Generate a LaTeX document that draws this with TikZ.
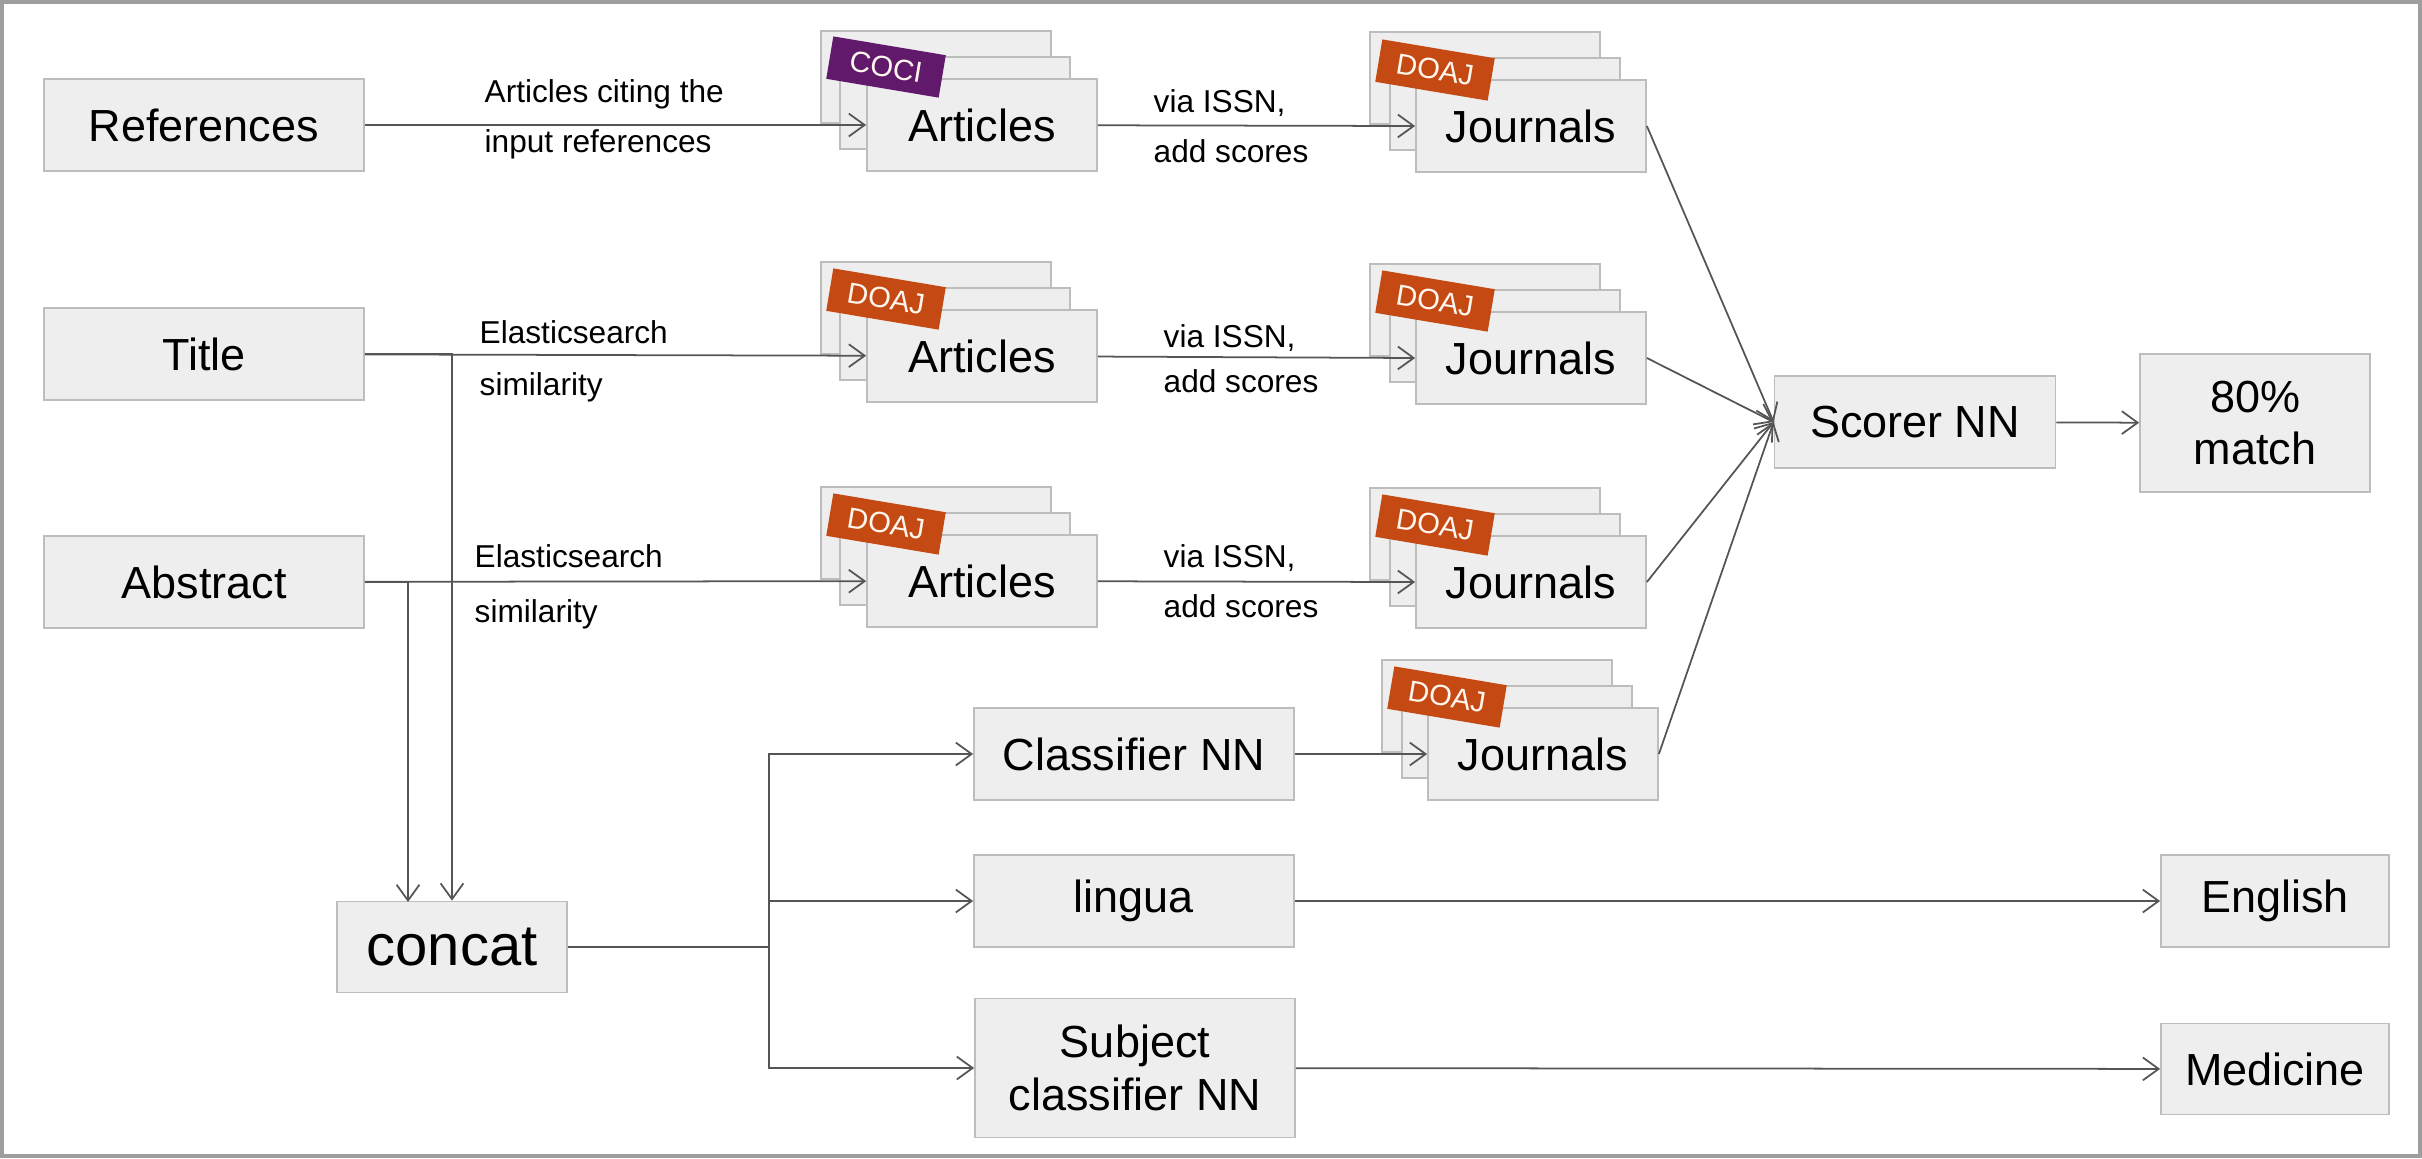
\documentclass[tikz,border=0pt]{standalone}
\usepackage{fontspec}
\setmainfont{Liberation Sans}
\usetikzlibrary{arrows.meta}
\definecolor{boxfill}{HTML}{EEEEEE}
\definecolor{boxline}{HTML}{BDBDBD}
\definecolor{wire}{HTML}{555555}
\definecolor{framegray}{HTML}{9E9E9E}
\definecolor{coci}{RGB}{97,26,107}
\definecolor{doaj}{RGB}{196,73,18}
\definecolor{tagtext}{HTML}{FFF6EE}
\tikzset{
  box/.style={draw=boxline, fill=boxfill, line width=0.5pt, inner sep=0pt, align=center, font=\fontsize{12.8}{15}\selectfont},
  stack/.style={box, minimum width=2.3cm, minimum height=0.92cm},
  wide/.style={box, minimum width=3.2cm, minimum height=0.92cm},
  tag/.style={fill=#1, text=tagtext, rotate=-9.5, minimum width=1.14cm, minimum height=0.43cm, inner sep=0pt, font=\fontsize{8.3}{10}\selectfont},
  lbl/.style={anchor=base west, inner sep=0pt, font=\fontsize{9}{11}\selectfont},
  link/.style={draw=wire, line width=0.5pt},
  arr/.style={link, -{Straight Barb[length=4.5pt,width=6.5pt]}}
}
\begin{document}
\begin{tikzpicture}[x=0.1mm, y=-0.1mm]
\useasboundingbox (0,0) rectangle (2422,1158);
\draw[framegray, line width=1.1pt] (2,2) rectangle (2420,1156);
\node[wide] (refs) at (204,125){References};
\node[wide] (title) at (204,354){Title};
\node[wide] (abstr) at (204,582){Abstract};
\node[box, minimum width=2.3cm, minimum height=0.91cm, font=\fontsize{16.5}{19}\selectfont] (concat) at (452,947){concat};
\node[stack] (art1b) at (936,77){};
\node[stack] (art1m) at (955,103){};
\node[stack] (art1) at (982,125){Articles};
\node[tag=coci] (coci1) at (886,67){COCI};
\node[stack] (art2b) at (936,308){};
\node[stack] (art2m) at (955,334){};
\node[stack] (art2) at (982,356){Articles};
\node[tag=doaj] (doaj2) at (886,299){DOAJ};
\node[stack] (art3b) at (936,533){};
\node[stack] (art3m) at (955,559){};
\node[stack] (art3) at (982,581){Articles};
\node[tag=doaj] (doaj3) at (886,524){DOAJ};
\node[stack] (jour1b) at (1485,78){};
\node[stack] (jour1m) at (1505,104){};
\node[stack] (jour1) at (1531,126){Journals};
\node[tag=doaj] (doajj1) at (1435,70){DOAJ};
\node[stack] (jour2b) at (1485,310){};
\node[stack] (jour2m) at (1505,336){};
\node[stack] (jour2) at (1531,358){Journals};
\node[tag=doaj] (doajj2) at (1435,301){DOAJ};
\node[stack] (jour3b) at (1485,534){};
\node[stack] (jour3m) at (1505,560){};
\node[stack] (jour3) at (1531,582){Journals};
\node[tag=doaj] (doajj3) at (1435,525){DOAJ};
\node[stack] (jour4b) at (1497,706){};
\node[stack] (jour4m) at (1517,732){};
\node[stack] (jour4) at (1543,754){Journals};
\node[tag=doaj] (doajj4) at (1447,697){DOAJ};
\node[wide] (clf) at (1134,754){Classifier NN};
\node[wide] (lingua) at (1134,901){lingua};
\node[wide, minimum height=1.39cm] (subj) at (1135,1068){Subject\\classifier NN};
\node[box, minimum width=2.81cm, minimum height=0.92cm] (scorer) at (1915,422){Scorer NN};
\node[box, minimum width=2.3cm, minimum height=1.38cm] (match) at (2255,423){80\%\\match};
\node[box, minimum width=2.28cm, minimum height=0.92cm] (english) at (2275,901){English};
\node[box, minimum width=2.28cm, minimum height=0.91cm] (medicine) at (2275,1069){Medicine};
\node[lbl] (cit1) at (484,102){Articles citing the};
\node[lbl] (cit2) at (484,152){input references};
\node[lbl] (es2a) at (479,343){Elasticsearch};
\node[lbl] (es2b) at (479,395){similarity};
\node[lbl] (es3a) at (474,567){Elasticsearch};
\node[lbl] (es3b) at (474,622){similarity};
\node[lbl] (via1) at (1153,112){via ISSN,};
\node[lbl] (add1) at (1153,162){add scores};
\node[lbl] (via2) at (1163,347){via ISSN,};
\node[lbl] (add2) at (1163,392){add scores};
\node[lbl] (via3) at (1163,567){via ISSN,};
\node[lbl] (add3) at (1163,617){add scores};
\coordinate (cin) at (408,902);
\coordinate (fork) at (769,947);
\draw[arr] (refs) -- (art1);
\draw[arr] (title) -- (art2);
\draw[arr] (abstr) -- (art3);
\draw[arr] (art1) -- (jour1.west);
\draw[arr] (art2) -- (jour2.west);
\draw[arr] (art3) -- (jour3.west);
\draw[arr] (title.east) -| (concat.north);
\draw[arr] (abstr.east) -| (cin);
\draw[link] (concat) -- (fork);
\draw[arr] (fork) |- (clf.west);
\draw[arr] (fork) |- (lingua.west);
\draw[arr] (fork) |- (subj.west);
\draw[arr] (clf) -- (jour4.west);
\draw[arr] (lingua) -- (english);
\draw[arr] (subj) -- (medicine);
\draw[arr] (jour1.east) -- (scorer.west);
\draw[arr] (jour2.east) -- (scorer.west);
\draw[arr] (jour3.east) -- (scorer.west);
\draw[arr] (jour4.east) -- (scorer.west);
\draw[arr] (scorer) -- (match);
\end{tikzpicture}
\end{document}
